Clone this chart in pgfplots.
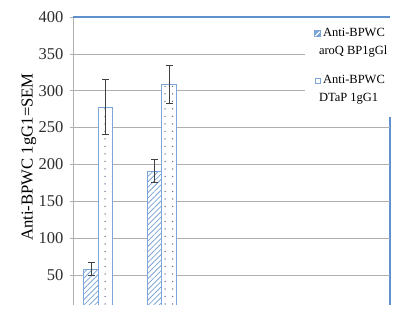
\documentclass[border=0pt]{standalone}
\usepackage{fontspec}
\setmainfont{Liberation Serif}
\usepackage{pgfplots}
\pgfplotsset{compat=1.18}
\usetikzlibrary{patterns.meta}
\definecolor{barblue}{RGB}{125,165,215}
\definecolor{topblue}{RGB}{95,145,205}
\definecolor{gridgray}{RGB}{175,175,175}
\definecolor{dotgray}{RGB}{95,115,145}
\definecolor{ticktext}{RGB}{45,45,45}
\begin{document}
\begin{tikzpicture}
\path[use as bounding box] (-73bp,-14bp) rectangle (327bp,305bp);
% left and right frame lines (drawn first, so that the legend covers the right one)
\draw[gridgray, line width=0.8bp] (0bp,0bp) -- (0bp,288bp);
\draw[topblue, line width=1.1bp] (317bp,288bp) -- (317bp,0bp);
\begin{axis}[
  at={(0,0)}, anchor=south west,
  scale only axis, width=317bp, height=288bp,
  xmin=0.6, xmax=5.6, ymin=9.3, ymax=400,
  xtick=\empty,
  ytick={50,100,...,350},
  extra y ticks={400}, extra y tick style={grid=none},
  ymajorgrids, grid style={gridgray, line width=0.6bp},
  axis line style={draw=none},
  tickpos=left, tick align=outside, major tick length=3bp,
  ytick style={gridgray, line width=0.6bp},
  /pgf/number format/assume math mode=true,
  yticklabel style={font=\fontsize{16.5bp}{18bp}\selectfont, text=ticktext, xshift=-3bp},
  ylabel={Anti-BPWC 1gG1=SEM},
  ylabel style={font=\fontsize{16.7bp}{18bp}\selectfont, at={(axis description cs:-0.139,0.514)}, anchor=center},
  legend style={at={(rel axis cs:0.732,1.0)}, anchor=north west, yshift=3bp, fill=white, draw=none,
    font=\fontsize{12.5bp}{18.5bp}\selectfont, row sep=14.5bp, inner xsep=9bp, inner ysep=12bp,
    cells={anchor=west, align=left}},
]
\addplot[ybar, bar width=14.5bp, bar shift=-7.25bp,
  draw=barblue, line width=0.8bp, fill=white,
  postaction={pattern color=barblue, pattern={Lines[angle=45,distance=3.8bp,line width=0.75bp]}},
  legend image code/.code={\fill[barblue] (2bp,5.5bp) rectangle (8bp,11.5bp); \draw[white, line width=0.8bp] (2.8bp,6.3bp)--(7.2bp,10.7bp);}]
  coordinates {(1,58) (2,191)};
\addlegendentry{Anti-BPWC\\\hspace*{-4bp}aroQ BP1gGl}
\addplot[ybar, bar width=14.5bp, bar shift=7.25bp,
  draw=barblue, line width=0.8bp, fill=white,
  postaction={pattern color=dotgray, pattern={Dots[distance=7.5bp,radius=0.75bp]}},
  legend image code/.code={\draw[barblue, fill=white, line width=0.8bp] (2.4bp,5.9bp) rectangle (7.6bp,11.1bp);}]
  coordinates {(1,278) (2,309)};
\addlegendentry{Anti-BPWC\\\hspace*{-4bp}DTaP 1gG1}
% error bars (SEM), at the centres of the shifted bars
\addplot[forget plot, draw=none, mark=none,
  error bars/.cd, y dir=both, y explicit, error mark=-,
  error bar style={line width=0.8bp, draw=black!75},
  error mark options={rotate=90, draw=black!75, line width=0.8bp, mark size=3.5bp}]
  coordinates {(0.88565,58) +- (0,9) (1.11435,278) +- (0,37) (1.88565,191) +- (0,16) (2.11435,309) +- (0,26)};
\end{axis}
% top frame line (over the legend's white box)
\draw[topblue, line width=1.1bp] (0bp,288bp) -- (317bp,288bp);
\end{tikzpicture}
\end{document}
